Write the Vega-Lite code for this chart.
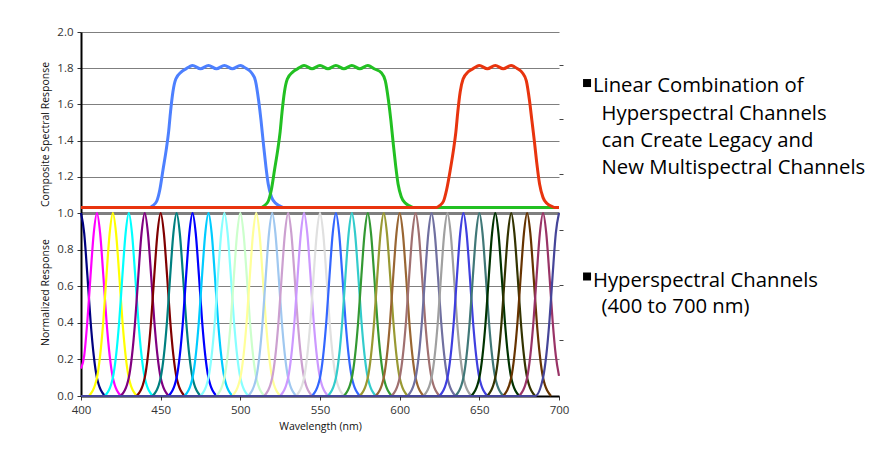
{
"$schema": "https://vega.github.io/schema/vega-lite/v6.json",
"background": "white",
"padding": {"left": 40, "top": 26, "right": 5, "bottom": 5},
"spacing": 0,
"bounds": "flush",
"resolve": {"scale": {"x": "independent", "y": "independent", "color": "independent"}},
"datasets": {
"composite": [
{"s":"Blue","w":400,"v":1.03},{"s":"Blue","w":443,"v":1.03},{"s":"Blue","w":445,"v":1.04},{"s":"Blue","w":447.5,"v":1.065},{"s":"Blue","w":449.5,"v":1.13},{"s":"Blue","w":451.5,"v":1.24},{"s":"Blue","w":453.5,"v":1.35},{"s":"Blue","w":455,"v":1.45},{"s":"Blue","w":456.2,"v":1.56},{"s":"Blue","w":457.7,"v":1.67},{"s":"Blue","w":459.5,"v":1.74},{"s":"Blue","w":463,"v":1.78},{"s":"Blue","w":466,"v":1.797},{"s":"Blue","w":468,"v":1.808},{"s":"Blue","w":470,"v":1.815},{"s":"Blue","w":475,"v":1.797},{"s":"Blue","w":480,"v":1.815},{"s":"Blue","w":485,"v":1.797},{"s":"Blue","w":490,"v":1.815},{"s":"Blue","w":495,"v":1.797},{"s":"Blue","w":500,"v":1.815},{"s":"Blue","w":502,"v":1.808},{"s":"Blue","w":504,"v":1.797},{"s":"Blue","w":507,"v":1.775},{"s":"Blue","w":509.5,"v":1.73},{"s":"Blue","w":511.5,"v":1.62},{"s":"Blue","w":513,"v":1.51},{"s":"Blue","w":514.5,"v":1.38},{"s":"Blue","w":516,"v":1.26},{"s":"Blue","w":517.5,"v":1.16},{"s":"Blue","w":519.5,"v":1.09},{"s":"Blue","w":522,"v":1.055},{"s":"Blue","w":525,"v":1.038},{"s":"Blue","w":527,"v":1.03},{"s":"Blue","w":700,"v":1.03},
{"s":"Green","w":400,"v":1.03},{"s":"Green","w":513,"v":1.03},{"s":"Green","w":515,"v":1.04},{"s":"Green","w":517.5,"v":1.065},{"s":"Green","w":519.5,"v":1.13},{"s":"Green","w":521.5,"v":1.24},{"s":"Green","w":523.5,"v":1.35},{"s":"Green","w":525,"v":1.45},{"s":"Green","w":526.2,"v":1.56},{"s":"Green","w":527.7,"v":1.67},{"s":"Green","w":529.5,"v":1.74},{"s":"Green","w":533,"v":1.78},{"s":"Green","w":536,"v":1.797},{"s":"Green","w":538,"v":1.808},{"s":"Green","w":540,"v":1.815},{"s":"Green","w":545,"v":1.797},{"s":"Green","w":550,"v":1.815},{"s":"Green","w":555,"v":1.797},{"s":"Green","w":560,"v":1.815},{"s":"Green","w":565,"v":1.797},{"s":"Green","w":570,"v":1.815},{"s":"Green","w":575,"v":1.797},{"s":"Green","w":580,"v":1.815},{"s":"Green","w":582,"v":1.808},{"s":"Green","w":584,"v":1.797},{"s":"Green","w":588.5,"v":1.775},{"s":"Green","w":591,"v":1.73},{"s":"Green","w":593,"v":1.62},{"s":"Green","w":594.5,"v":1.51},{"s":"Green","w":596,"v":1.38},{"s":"Green","w":597.5,"v":1.26},{"s":"Green","w":599,"v":1.16},{"s":"Green","w":601,"v":1.09},{"s":"Green","w":603.5,"v":1.055},{"s":"Green","w":606.5,"v":1.038},{"s":"Green","w":608.5,"v":1.03},{"s":"Green","w":700,"v":1.03},
{"s":"Red","w":400,"v":1.03},{"s":"Red","w":623,"v":1.03},{"s":"Red","w":625,"v":1.04},{"s":"Red","w":627.5,"v":1.065},{"s":"Red","w":629.5,"v":1.13},{"s":"Red","w":631.8,"v":1.24},{"s":"Red","w":633.8,"v":1.35},{"s":"Red","w":635.3,"v":1.45},{"s":"Red","w":636.5,"v":1.56},{"s":"Red","w":638,"v":1.67},{"s":"Red","w":639.8,"v":1.74},{"s":"Red","w":643,"v":1.78},{"s":"Red","w":646,"v":1.797},{"s":"Red","w":648,"v":1.808},{"s":"Red","w":650,"v":1.815},{"s":"Red","w":655,"v":1.797},{"s":"Red","w":660,"v":1.815},{"s":"Red","w":665,"v":1.797},{"s":"Red","w":670,"v":1.815},{"s":"Red","w":672,"v":1.808},{"s":"Red","w":674,"v":1.797},{"s":"Red","w":677,"v":1.775},{"s":"Red","w":679.5,"v":1.73},{"s":"Red","w":681.5,"v":1.62},{"s":"Red","w":683,"v":1.51},{"s":"Red","w":684.5,"v":1.4},{"s":"Red","w":686,"v":1.28},{"s":"Red","w":687.8,"v":1.16},{"s":"Red","w":690,"v":1.085},{"s":"Red","w":692.5,"v":1.052},{"s":"Red","w":695.5,"v":1.037},{"s":"Red","w":697.5,"v":1.03},{"s":"Red","w":700,"v":1.03}
],
"channels": [
{"c":"c400","w":400,"v":1},{"c":"c400","w":402,"v":0.89},{"c":"c400","w":404,"v":0.66},{"c":"c400","w":406,"v":0.41},{"c":"c400","w":408,"v":0.22},{"c":"c400","w":410,"v":0.1},{"c":"c400","w":415,"v":0},
{"c":"c410","w":400,"v":0.15},{"c":"c410","w":402,"v":0.22},{"c":"c410","w":404,"v":0.41},{"c":"c410","w":406,"v":0.66},{"c":"c410","w":408,"v":0.89},{"c":"c410","w":410,"v":1},{"c":"c410","w":412,"v":0.89},{"c":"c410","w":414,"v":0.66},{"c":"c410","w":416,"v":0.41},{"c":"c410","w":418,"v":0.22},{"c":"c410","w":420,"v":0.1},{"c":"c410","w":425,"v":0},
{"c":"c420","w":405,"v":0},{"c":"c420","w":410,"v":0.1},{"c":"c420","w":412,"v":0.22},{"c":"c420","w":414,"v":0.41},{"c":"c420","w":416,"v":0.66},{"c":"c420","w":418,"v":0.89},{"c":"c420","w":420,"v":1},{"c":"c420","w":422,"v":0.89},{"c":"c420","w":424,"v":0.66},{"c":"c420","w":426,"v":0.41},{"c":"c420","w":428,"v":0.22},{"c":"c420","w":430,"v":0.1},{"c":"c420","w":435,"v":0},
{"c":"c430","w":415,"v":0},{"c":"c430","w":420,"v":0.1},{"c":"c430","w":422,"v":0.22},{"c":"c430","w":424,"v":0.41},{"c":"c430","w":426,"v":0.66},{"c":"c430","w":428,"v":0.89},{"c":"c430","w":430,"v":1},{"c":"c430","w":432,"v":0.89},{"c":"c430","w":434,"v":0.66},{"c":"c430","w":436,"v":0.41},{"c":"c430","w":438,"v":0.22},{"c":"c430","w":440,"v":0.1},{"c":"c430","w":445,"v":0},
{"c":"c440","w":425,"v":0},{"c":"c440","w":430,"v":0.1},{"c":"c440","w":432,"v":0.22},{"c":"c440","w":434,"v":0.41},{"c":"c440","w":436,"v":0.66},{"c":"c440","w":438,"v":0.89},{"c":"c440","w":440,"v":1},{"c":"c440","w":442,"v":0.89},{"c":"c440","w":444,"v":0.66},{"c":"c440","w":446,"v":0.41},{"c":"c440","w":448,"v":0.22},{"c":"c440","w":450,"v":0.1},{"c":"c440","w":455,"v":0},
{"c":"c450","w":435,"v":0},{"c":"c450","w":440,"v":0.1},{"c":"c450","w":442,"v":0.22},{"c":"c450","w":444,"v":0.41},{"c":"c450","w":446,"v":0.66},{"c":"c450","w":448,"v":0.89},{"c":"c450","w":450,"v":1},{"c":"c450","w":452,"v":0.89},{"c":"c450","w":454,"v":0.66},{"c":"c450","w":456,"v":0.41},{"c":"c450","w":458,"v":0.22},{"c":"c450","w":460,"v":0.1},{"c":"c450","w":465,"v":0},
{"c":"c460","w":445,"v":0},{"c":"c460","w":450,"v":0.1},{"c":"c460","w":452,"v":0.22},{"c":"c460","w":454,"v":0.41},{"c":"c460","w":456,"v":0.66},{"c":"c460","w":458,"v":0.89},{"c":"c460","w":460,"v":1},{"c":"c460","w":462,"v":0.89},{"c":"c460","w":464,"v":0.66},{"c":"c460","w":466,"v":0.41},{"c":"c460","w":468,"v":0.22},{"c":"c460","w":470,"v":0.1},{"c":"c460","w":475,"v":0},
{"c":"c470","w":455,"v":0},{"c":"c470","w":460,"v":0.1},{"c":"c470","w":462,"v":0.22},{"c":"c470","w":464,"v":0.41},{"c":"c470","w":466,"v":0.66},{"c":"c470","w":468,"v":0.89},{"c":"c470","w":470,"v":1},{"c":"c470","w":472,"v":0.89},{"c":"c470","w":474,"v":0.66},{"c":"c470","w":476,"v":0.41},{"c":"c470","w":478,"v":0.22},{"c":"c470","w":480,"v":0.1},{"c":"c470","w":485,"v":0},
{"c":"c480","w":465,"v":0},{"c":"c480","w":470,"v":0.1},{"c":"c480","w":472,"v":0.22},{"c":"c480","w":474,"v":0.41},{"c":"c480","w":476,"v":0.66},{"c":"c480","w":478,"v":0.89},{"c":"c480","w":480,"v":1},{"c":"c480","w":482,"v":0.89},{"c":"c480","w":484,"v":0.66},{"c":"c480","w":486,"v":0.41},{"c":"c480","w":488,"v":0.22},{"c":"c480","w":490,"v":0.1},{"c":"c480","w":495,"v":0},
{"c":"c490","w":475,"v":0},{"c":"c490","w":480,"v":0.1},{"c":"c490","w":482,"v":0.22},{"c":"c490","w":484,"v":0.41},{"c":"c490","w":486,"v":0.66},{"c":"c490","w":488,"v":0.89},{"c":"c490","w":490,"v":1},{"c":"c490","w":492,"v":0.89},{"c":"c490","w":494,"v":0.66},{"c":"c490","w":496,"v":0.41},{"c":"c490","w":498,"v":0.22},{"c":"c490","w":500,"v":0.1},{"c":"c490","w":505,"v":0},
{"c":"c500","w":485,"v":0},{"c":"c500","w":490,"v":0.1},{"c":"c500","w":492,"v":0.22},{"c":"c500","w":494,"v":0.41},{"c":"c500","w":496,"v":0.66},{"c":"c500","w":498,"v":0.89},{"c":"c500","w":500,"v":1},{"c":"c500","w":502,"v":0.89},{"c":"c500","w":504,"v":0.66},{"c":"c500","w":506,"v":0.41},{"c":"c500","w":508,"v":0.22},{"c":"c500","w":510,"v":0.1},{"c":"c500","w":515,"v":0},
{"c":"c510","w":495,"v":0},{"c":"c510","w":500,"v":0.1},{"c":"c510","w":502,"v":0.22},{"c":"c510","w":504,"v":0.41},{"c":"c510","w":506,"v":0.66},{"c":"c510","w":508,"v":0.89},{"c":"c510","w":510,"v":1},{"c":"c510","w":512,"v":0.89},{"c":"c510","w":514,"v":0.66},{"c":"c510","w":516,"v":0.41},{"c":"c510","w":518,"v":0.22},{"c":"c510","w":520,"v":0.1},{"c":"c510","w":525,"v":0},
{"c":"c520","w":505,"v":0},{"c":"c520","w":510,"v":0.1},{"c":"c520","w":512,"v":0.22},{"c":"c520","w":514,"v":0.41},{"c":"c520","w":516,"v":0.66},{"c":"c520","w":518,"v":0.89},{"c":"c520","w":520,"v":1},{"c":"c520","w":522,"v":0.89},{"c":"c520","w":524,"v":0.66},{"c":"c520","w":526,"v":0.41},{"c":"c520","w":528,"v":0.22},{"c":"c520","w":530,"v":0.1},{"c":"c520","w":535,"v":0},
{"c":"c530","w":515,"v":0},{"c":"c530","w":520,"v":0.1},{"c":"c530","w":522,"v":0.22},{"c":"c530","w":524,"v":0.41},{"c":"c530","w":526,"v":0.66},{"c":"c530","w":528,"v":0.89},{"c":"c530","w":530,"v":1},{"c":"c530","w":532,"v":0.89},{"c":"c530","w":534,"v":0.66},{"c":"c530","w":536,"v":0.41},{"c":"c530","w":538,"v":0.22},{"c":"c530","w":540,"v":0.1},{"c":"c530","w":545,"v":0},
{"c":"c540","w":525,"v":0},{"c":"c540","w":530,"v":0.1},{"c":"c540","w":532,"v":0.22},{"c":"c540","w":534,"v":0.41},{"c":"c540","w":536,"v":0.66},{"c":"c540","w":538,"v":0.89},{"c":"c540","w":540,"v":1},{"c":"c540","w":542,"v":0.89},{"c":"c540","w":544,"v":0.66},{"c":"c540","w":546,"v":0.41},{"c":"c540","w":548,"v":0.22},{"c":"c540","w":550,"v":0.1},{"c":"c540","w":555,"v":0},
{"c":"c550","w":535,"v":0},{"c":"c550","w":540,"v":0.1},{"c":"c550","w":542,"v":0.22},{"c":"c550","w":544,"v":0.41},{"c":"c550","w":546,"v":0.66},{"c":"c550","w":548,"v":0.89},{"c":"c550","w":550,"v":1},{"c":"c550","w":552,"v":0.89},{"c":"c550","w":554,"v":0.66},{"c":"c550","w":556,"v":0.41},{"c":"c550","w":558,"v":0.22},{"c":"c550","w":560,"v":0.1},{"c":"c550","w":565,"v":0},
{"c":"c560","w":545,"v":0},{"c":"c560","w":550,"v":0.1},{"c":"c560","w":552,"v":0.22},{"c":"c560","w":554,"v":0.41},{"c":"c560","w":556,"v":0.66},{"c":"c560","w":558,"v":0.89},{"c":"c560","w":560,"v":1},{"c":"c560","w":562,"v":0.89},{"c":"c560","w":564,"v":0.66},{"c":"c560","w":566,"v":0.41},{"c":"c560","w":568,"v":0.22},{"c":"c560","w":570,"v":0.1},{"c":"c560","w":575,"v":0},
{"c":"c570","w":555,"v":0},{"c":"c570","w":560,"v":0.1},{"c":"c570","w":562,"v":0.22},{"c":"c570","w":564,"v":0.41},{"c":"c570","w":566,"v":0.66},{"c":"c570","w":568,"v":0.89},{"c":"c570","w":570,"v":1},{"c":"c570","w":572,"v":0.89},{"c":"c570","w":574,"v":0.66},{"c":"c570","w":576,"v":0.41},{"c":"c570","w":578,"v":0.22},{"c":"c570","w":580,"v":0.1},{"c":"c570","w":585,"v":0},
{"c":"c580","w":565,"v":0},{"c":"c580","w":570,"v":0.1},{"c":"c580","w":572,"v":0.22},{"c":"c580","w":574,"v":0.41},{"c":"c580","w":576,"v":0.66},{"c":"c580","w":578,"v":0.89},{"c":"c580","w":580,"v":1},{"c":"c580","w":582,"v":0.89},{"c":"c580","w":584,"v":0.66},{"c":"c580","w":586,"v":0.41},{"c":"c580","w":588,"v":0.22},{"c":"c580","w":590,"v":0.1},{"c":"c580","w":595,"v":0},
{"c":"c590","w":575,"v":0},{"c":"c590","w":580,"v":0.1},{"c":"c590","w":582,"v":0.22},{"c":"c590","w":584,"v":0.41},{"c":"c590","w":586,"v":0.66},{"c":"c590","w":588,"v":0.89},{"c":"c590","w":590,"v":1},{"c":"c590","w":592,"v":0.89},{"c":"c590","w":594,"v":0.66},{"c":"c590","w":596,"v":0.41},{"c":"c590","w":598,"v":0.22},{"c":"c590","w":600,"v":0.1},{"c":"c590","w":605,"v":0},
{"c":"c600","w":585,"v":0},{"c":"c600","w":590,"v":0.1},{"c":"c600","w":592,"v":0.22},{"c":"c600","w":594,"v":0.41},{"c":"c600","w":596,"v":0.66},{"c":"c600","w":598,"v":0.89},{"c":"c600","w":600,"v":1},{"c":"c600","w":602,"v":0.89},{"c":"c600","w":604,"v":0.66},{"c":"c600","w":606,"v":0.41},{"c":"c600","w":608,"v":0.22},{"c":"c600","w":610,"v":0.1},{"c":"c600","w":615,"v":0},
{"c":"c610","w":595,"v":0},{"c":"c610","w":600,"v":0.1},{"c":"c610","w":602,"v":0.22},{"c":"c610","w":604,"v":0.41},{"c":"c610","w":606,"v":0.66},{"c":"c610","w":608,"v":0.89},{"c":"c610","w":610,"v":1},{"c":"c610","w":612,"v":0.89},{"c":"c610","w":614,"v":0.66},{"c":"c610","w":616,"v":0.41},{"c":"c610","w":618,"v":0.22},{"c":"c610","w":620,"v":0.1},{"c":"c610","w":625,"v":0},
{"c":"c620","w":605,"v":0},{"c":"c620","w":610,"v":0.1},{"c":"c620","w":612,"v":0.22},{"c":"c620","w":614,"v":0.41},{"c":"c620","w":616,"v":0.66},{"c":"c620","w":618,"v":0.89},{"c":"c620","w":620,"v":1},{"c":"c620","w":622,"v":0.89},{"c":"c620","w":624,"v":0.66},{"c":"c620","w":626,"v":0.41},{"c":"c620","w":628,"v":0.22},{"c":"c620","w":630,"v":0.1},{"c":"c620","w":635,"v":0},
{"c":"c630","w":615,"v":0},{"c":"c630","w":620,"v":0.1},{"c":"c630","w":622,"v":0.22},{"c":"c630","w":624,"v":0.41},{"c":"c630","w":626,"v":0.66},{"c":"c630","w":628,"v":0.89},{"c":"c630","w":630,"v":1},{"c":"c630","w":632,"v":0.89},{"c":"c630","w":634,"v":0.66},{"c":"c630","w":636,"v":0.41},{"c":"c630","w":638,"v":0.22},{"c":"c630","w":640,"v":0.1},{"c":"c630","w":645,"v":0},
{"c":"c640","w":625,"v":0},{"c":"c640","w":630,"v":0.1},{"c":"c640","w":632,"v":0.22},{"c":"c640","w":634,"v":0.41},{"c":"c640","w":636,"v":0.66},{"c":"c640","w":638,"v":0.89},{"c":"c640","w":640,"v":1},{"c":"c640","w":642,"v":0.89},{"c":"c640","w":644,"v":0.66},{"c":"c640","w":646,"v":0.41},{"c":"c640","w":648,"v":0.22},{"c":"c640","w":650,"v":0.1},{"c":"c640","w":655,"v":0},
{"c":"c650","w":635,"v":0},{"c":"c650","w":640,"v":0.1},{"c":"c650","w":642,"v":0.22},{"c":"c650","w":644,"v":0.41},{"c":"c650","w":646,"v":0.66},{"c":"c650","w":648,"v":0.89},{"c":"c650","w":650,"v":1},{"c":"c650","w":652,"v":0.89},{"c":"c650","w":654,"v":0.66},{"c":"c650","w":656,"v":0.41},{"c":"c650","w":658,"v":0.22},{"c":"c650","w":660,"v":0.1},{"c":"c650","w":665,"v":0},
{"c":"c660","w":645,"v":0},{"c":"c660","w":650,"v":0.1},{"c":"c660","w":652,"v":0.22},{"c":"c660","w":654,"v":0.41},{"c":"c660","w":656,"v":0.66},{"c":"c660","w":658,"v":0.89},{"c":"c660","w":660,"v":1},{"c":"c660","w":662,"v":0.89},{"c":"c660","w":664,"v":0.66},{"c":"c660","w":666,"v":0.41},{"c":"c660","w":668,"v":0.22},{"c":"c660","w":670,"v":0.1},{"c":"c660","w":675,"v":0},
{"c":"c670","w":655,"v":0},{"c":"c670","w":660,"v":0.1},{"c":"c670","w":662,"v":0.22},{"c":"c670","w":664,"v":0.41},{"c":"c670","w":666,"v":0.66},{"c":"c670","w":668,"v":0.89},{"c":"c670","w":670,"v":1},{"c":"c670","w":672,"v":0.89},{"c":"c670","w":674,"v":0.66},{"c":"c670","w":676,"v":0.41},{"c":"c670","w":678,"v":0.22},{"c":"c670","w":680,"v":0.1},{"c":"c670","w":685,"v":0},
{"c":"c680","w":665,"v":0},{"c":"c680","w":670,"v":0.1},{"c":"c680","w":672,"v":0.22},{"c":"c680","w":674,"v":0.41},{"c":"c680","w":676,"v":0.66},{"c":"c680","w":678,"v":0.89},{"c":"c680","w":680,"v":1},{"c":"c680","w":682,"v":0.89},{"c":"c680","w":684,"v":0.66},{"c":"c680","w":686,"v":0.41},{"c":"c680","w":688,"v":0.22},{"c":"c680","w":690,"v":0.1},{"c":"c680","w":695,"v":0},
{"c":"c690","w":675,"v":0},{"c":"c690","w":680,"v":0.1},{"c":"c690","w":682,"v":0.22},{"c":"c690","w":684,"v":0.41},{"c":"c690","w":686,"v":0.66},{"c":"c690","w":688,"v":0.89},{"c":"c690","w":690,"v":1},{"c":"c690","w":692,"v":0.89},{"c":"c690","w":694,"v":0.66},{"c":"c690","w":696,"v":0.41},{"c":"c690","w":698,"v":0.22},{"c":"c690","w":700,"v":0.11},
{"c":"c700","w":400,"v":0},{"c":"c700","w":685,"v":0},{"c":"c700","w":690,"v":0.1},{"c":"c700","w":692,"v":0.22},{"c":"c700","w":694,"v":0.41},{"c":"c700","w":696,"v":0.66},{"c":"c700","w":698,"v":0.89},{"c":"c700","w":700,"v":1}
],
"bulletTop": [{"x":717.6,"y":1.718}],
"noteTop": [
{"x":721.3,"y":1.667,"t":"Linear Combination of"},
{"x":726.7,"y":1.514,"t":"Hyperspectral Channels"},
{"x":726.7,"y":1.363,"t":"can Create Legacy and"},
{"x":726.7,"y":1.214,"t":"New Multispectral Channels"}
],
"bulletBottom": [{"x":717.6,"y":0.653}],
"noteBottom": [
{"x":721.3,"y":0.597,"t":"Hyperspectral Channels"},
{"x":726.7,"y":0.452,"t":"(400 to 700 nm)"}
]
},
"vconcat": [
{
"width": 478, "height": 181,
"resolve": {"scale": {"y": "independent"}},
"layer": [
{"layer": [
{"data": {"name": "composite"},
 "mark": {"type": "line", "interpolate": "monotone", "strokeWidth": 3},
 "encoding": {
  "x": {"field": "w", "type": "quantitative", "scale": {"domain": [400, 700], "nice": false, "zero": false},
        "axis": {"title": null, "labels": false, "ticks": false, "grid": false, "domain": true, "domainColor": "#000000", "domainWidth": 2}},
  "y": {"field": "v", "type": "quantitative", "scale": {"domain": [1, 2], "nice": false, "zero": false},
        "axis": {"title": "Composite Spectral Response", "values": [1.2, 1.4, 1.6, 1.8, 2.0], "tickCount": 10, "format": ".1f", "titleY": 102}},
  "color": {"field": "s", "type": "nominal", "scale": {"domain": ["Blue", "Green", "Red"], "range": ["#4D80FF", "#22C022", "#E8340E"]}, "legend": null}
 }},
{"mark": {"type": "rule", "color": "#6e6e6e", "strokeWidth": 1}, "encoding": {"x": {"datum": 700}}},
{"data": {"name": "bulletTop"},
 "mark": {"type": "point", "shape": "square", "filled": true, "size": 64, "color": "#000000", "opacity": 1},
 "encoding": {"x": {"field": "x", "type": "quantitative"}, "y": {"field": "y", "type": "quantitative"}}},
{"data": {"name": "noteTop"},
 "mark": {"type": "text", "align": "left", "baseline": "alphabetic", "fontSize": 20.3, "font": "Open Sans", "color": "#000000"},
 "encoding": {"x": {"field": "x", "type": "quantitative"}, "y": {"field": "y", "type": "quantitative"}, "text": {"field": "t"}}}
]},
{"mark": {"type": "point", "opacity": 0, "size": 1},
 "encoding": {"y": {"datum": 1.5, "type": "quantitative", "scale": {"domain": [1, 2], "nice": false, "zero": false},
   "axis": {"orient": "right", "title": null, "labels": false, "grid": false, "domain": false, "values": [1.215, 1.517, 1.818], "tickCount": 10, "tickSize": 4, "tickColor": "#444444"}}}}
]
},
{
"width": 478, "height": 183,
"resolve": {"scale": {"y": "independent"}},
"layer": [
{"layer": [
{"data": {"name": "channels"},
 "mark": {"type": "line", "interpolate": "monotone", "strokeWidth": 2.2},
 "encoding": {
  "x": {"field": "w", "type": "quantitative", "scale": {"domain": [400, 700], "nice": false, "zero": false},
        "axis": {"title": "Wavelength (nm)", "values": [400, 450, 500, 550, 600, 650, 700], "tickCount": 10, "grid": false, "domainColor": "#000000", "domainWidth": 2, "zindex": 0}},
  "y": {"field": "v", "type": "quantitative", "scale": {"domain": [0, 1], "nice": false, "zero": false},
        "axis": {"title": "Normalized Response", "values": [0, 0.2, 0.4, 0.6, 0.8, 1.0], "tickCount": 10, "format": ".1f", "titleY": 79}},
  "color": {"field": "c", "type": "nominal", "legend": null, "scale": {
    "domain": ["c400","c410","c420","c430","c440","c450","c460","c470","c480","c490","c500","c510","c520","c530","c540","c550","c560","c570","c580","c590","c600","c610","c620","c630","c640","c650","c660","c670","c680","c690","c700"],
    "range": ["#000080","#FF00FF","#FFFF00","#00FFFF","#800080","#800000","#008080","#0000FF","#00CCFF","#88FFFF","#CCFFCC","#FFFF99","#A0C8F0","#CCA0D0","#CC99FF","#E0E0E0","#3366FF","#33CCCC","#339933","#999933","#996633","#A07070","#7070A0","#A0A0A0","#3F3FDF","#407878","#003300","#333300","#663300","#993366","#454599"]}}
 }},
{"mark": {"type": "rule", "color": "#6e6e6e", "strokeWidth": 1}, "encoding": {"x": {"datum": 700}}},
{"data": {"name": "bulletBottom"},
 "mark": {"type": "point", "shape": "square", "filled": true, "size": 64, "color": "#000000", "opacity": 1},
 "encoding": {"x": {"field": "x", "type": "quantitative"}, "y": {"field": "y", "type": "quantitative"}}},
{"data": {"name": "noteBottom"},
 "mark": {"type": "text", "align": "left", "baseline": "alphabetic", "fontSize": 20.3, "font": "Open Sans", "color": "#000000"},
 "encoding": {"x": {"field": "x", "type": "quantitative"}, "y": {"field": "y", "type": "quantitative"}, "text": {"field": "t"}}}
]},
{"mark": {"type": "point", "opacity": 0, "size": 1},
 "encoding": {"y": {"datum": 0.5, "type": "quantitative", "scale": {"domain": [0, 1], "nice": false, "zero": false},
   "axis": {"orient": "right", "title": null, "labels": false, "grid": false, "domain": false, "values": [0.306, 0.607, 0.907], "tickCount": 10, "tickSize": 4, "tickColor": "#444444"}}}}
]
}
],
"config": {
 "view": {"stroke": null},
 "axis": {"labelFont": "Open Sans", "labelFontSize": 11.5, "labelColor": "#333333", "labelFlush": false, "labelOverlap": false, "titleFont": "Open Sans", "titleFontSize": 10.5, "titleFontWeight": "normal", "titleColor": "#111111", "gridColor": "#7f7f7f", "gridWidth": 1, "gridOpacity": 1, "tickColor": "#333333", "tickSize": 4, "labelPadding": 4, "domainColor": "#000000", "domainWidth": 2, "titlePadding": 6},
 "axisY": {"grid": true},
 "axisX": {"grid": false, "titlePadding": 6}
}
}
